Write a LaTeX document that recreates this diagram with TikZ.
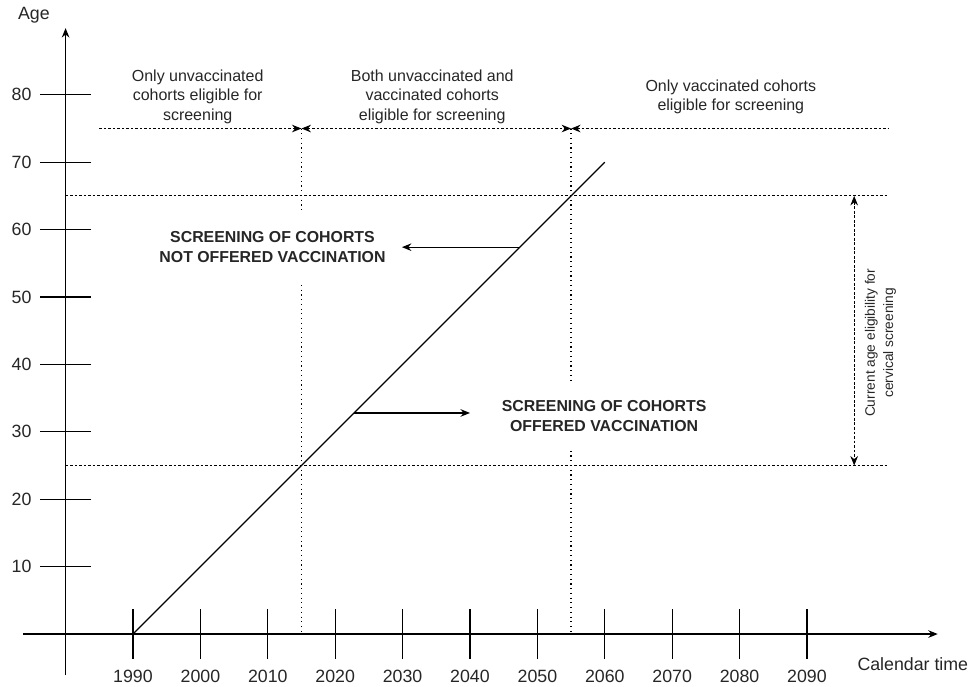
\documentclass[tikz,border=0pt]{standalone}
\usepackage{fontspec}
\setmainfont{Liberation Sans}
\usepackage{xcolor}
\usetikzlibrary{arrows.meta}
\definecolor{ink}{gray}{0.15}
\tikzset{
    axislabel/.style={text=ink,inner sep=0pt,font=\fontsize{7.5}{9}\selectfont},
    note/.style={text=ink,align=center,font=\fontsize{6.75}{8.2}\selectfont},
    bignote/.style={text=ink,align=center,fill=white,inner xsep=2pt,inner ysep=0.27cm,font=\fontsize{6.7}{8.3}\selectfont\bfseries},
    sidenote/.style={text=ink,align=center,rotate=90,font=\fontsize{5.8}{7.7}\selectfont},
    tick/.style={line width=0.5pt},
    axis/.style={line width=0.5pt,-{Stealth[length=4pt,width=3.2pt]}},
    guide/.style={line width=0.4pt,dash pattern=on 1.1pt off 0.8pt},
    dotline/.style={line width=0.6pt,dash pattern=on 0.5pt off 1.5pt},
    mytip/.tip={Stealth[length=4pt,width=3.2pt]},
}
\begin{document}
\begin{tikzpicture}
    \useasboundingbox (-1.973,-0.772) rectangle (12.463,9.407);
    \coordinate (xfrom) at (-1.63,0);
    \coordinate (xto) at (11.94,0);
    \coordinate (yfrom) at (-1,-0.61);
    \coordinate (yto) at (-1,8.99);
    \draw [axis] (xfrom) -- (xto);
    \draw [axis] (yfrom) -- (yto);
    \path (-1.47,9.18) node [axislabel] (age) {Age};
    \path (11.57,-0.45) node [axislabel] (caltime) {Calendar time};
    \foreach \a in {1,...,8} {
        \draw [tick] (-1.38,\a) -- (-0.62,\a);
        \path (-1.5,\a) node [axislabel,anchor=east] (y\a) {\a0};
    }
    \foreach \i/\yr in {0/1990,1/2000,2/2010,3/2020,4/2030,5/2040,6/2050,7/2060,8/2070,9/2080,10/2090} {
        \draw [tick] (\i,-0.37) -- (\i,0.37);
        \path (\i,-0.63) node [axislabel] (x\yr) {\yr};
    }
    \coordinate (h75a) at (-0.5,7.5);
    \coordinate (v15top) at (2.5,7.5);
    \coordinate (v55top) at (6.5,7.5);
    \coordinate (h75b) at (11.2,7.5);
    \coordinate (v15bot) at (2.5,0);
    \coordinate (v55bot) at (6.5,0);
    \draw [guide,-mytip] (h75a) -- (v15top);
    \draw [guide,mytip-mytip] (v15top) -- (v55top);
    \draw [guide,mytip-] (v55top) -- (h75b);
    \draw [guide] (-1,6.5) coordinate (h65a) -- (11.2,6.5) coordinate (h65b);
    \draw [guide] (-1,2.5) coordinate (h25a) -- (11.2,2.5) coordinate (h25b);
    \draw [dotline] (v15top) -- (v15bot);
    \draw [dotline] (v55top) -- (v55bot);
    \coordinate (d0) at (0,0);
    \coordinate (d1) at (7,7);
    \draw [tick] (d0) -- (d1);
    \coordinate (lfrom) at (5.74,5.74);
    \coordinate (lto) at (3.99,5.74);
    \coordinate (rfrom) at (3.28,3.28);
    \coordinate (rto) at (5.0,3.28);
    \draw [tick,-mytip] (lfrom) -- (lto);
    \draw [tick,-mytip] (rfrom) -- (rto);
    \path (2.07,5.74) node [bignote] (notoffered) {SCREENING OF COHORTS\\NOT OFFERED VACCINATION};
    \path (6.99,3.23) node [bignote] (offered) {SCREENING OF COHORTS\\OFFERED VACCINATION};
    \path (0.96,7.97) node [note] (onlyunvac) {Only unvaccinated\\cohorts eligible for\\screening};
    \path (4.44,7.97) node [note] (both) {Both unvaccinated and\\vaccinated cohorts\\eligible for screening};
    \path (8.87,7.97) node [note] (onlyvac) {Only vaccinated cohorts\\eligible for screening};
    \coordinate (e65) at (10.7,6.5);
    \coordinate (e25) at (10.7,2.5);
    \draw [guide,mytip-mytip] (e65) -- (e25);
    \path (11.09,4.32) node [sidenote] (eligible) {Current age eligibility for\\cervical screening};
\end{tikzpicture}
\end{document}
